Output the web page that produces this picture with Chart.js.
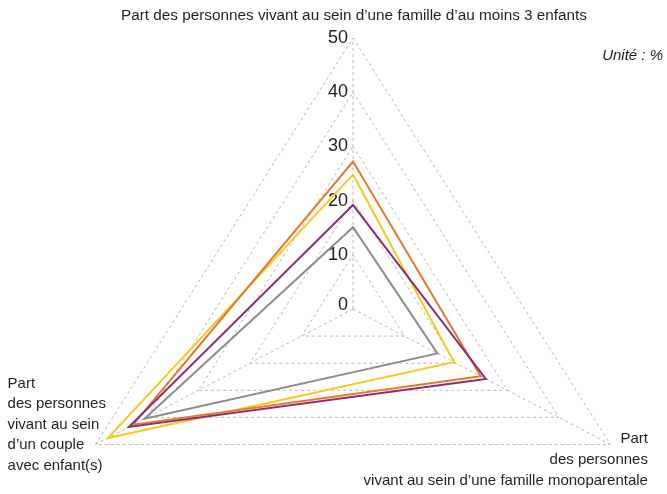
<!DOCTYPE html>
<html>
<head>
<meta charset="utf-8">
<script src="https://cdn.jsdelivr.net/npm/chart.js@4/dist/chart.umd.min.js"></script>
<style>
html,body{margin:0;padding:0;background:#fff;}
#wrap{width:667px;height:494px;position:relative;}
</style>
</head>
<body>
<div id="wrap"><canvas id="c" width="667" height="494"></canvas></div>
<script>
// ---- data ----
const axisLabels = [
  ['Part des personnes vivant au sein d’une famille d’au moins 3 enfants'],
  ['Part', 'des personnes', 'vivant au sein d’une famille monoparentale'],
  ['Part', 'des personnes', 'vivant au sein', 'd’un couple', 'avec enfant(s)']
];
const tickValues = [0, 10, 20, 30, 40, 50];
const unitLabel = 'Unité : %';
const seriesNames = ['Série 1', 'Série 2', 'Série 3', 'Série 4'];
const seriesOrange = [27.2, 24.8, 42.7];
const seriesYellow = [24.8, 19.6, 47.6];
const seriesPurple = [19.2, 25.8, 43.5];
const seriesGray   = [15.1, 16.4, 40.5];

// ---- styles ----
const TEXT = '#231f20';
const FONT = '"Liberation Sans", Arial, Helvetica, sans-serif';
const GRID = '#b8b8b8';
const X_STRETCH = 1.097;

const Base = Chart.RadialLinearScale || Chart.registry.getScale('radialLinear');

class TriRadialScale extends Base {
  fit() {
    this.xCenter = 353;
    this.yCenter = 309;
    this.drawingArea = 271;
  }
  getPointPosition(index, distance, additionalAngle = 0) {
    const p = super.getPointPosition(index, distance, additionalAngle);
    return { x: this.xCenter + (p.x - this.xCenter) * X_STRETCH, y: p.y, angle: p.angle };
  }
  drawLabels() {
    const ctx = this.ctx;
    ctx.save();
    ctx.fillStyle = TEXT;
    // tick labels (including 0)
    ctx.font = '18px ' + FONT;
    ctx.textAlign = 'right';
    ctx.textBaseline = 'alphabetic';
    this.ticks.forEach((t) => {
      const off = this.getDistanceFromCenterForValue(t.value);
      const y = this.yCenter - off + (t.value === 0 ? 1 : 5);
      ctx.fillText(String(t.label), this.xCenter - 5, y);
    });
    // axis labels
    ctx.font = '15.3px ' + FONT;
    const labels = this.chart.data.labels;
    const outer = this.getDistanceFromCenterForValue(this.max);
    const v0 = this.getPointPosition(0, outer);
    const v1 = this.getPointPosition(1, outer);
    const v2 = this.getPointPosition(2, outer);
    ctx.textAlign = 'center';
    labels[0].forEach((line, i) => ctx.fillText(line, v0.x + 1, v0.y - 18.5 + i * 21));
    ctx.font = '15px ' + FONT;
    ctx.textAlign = 'right';
    labels[1].forEach((line, i) => ctx.fillText(line, v1.x + 37.5, v1.y - 2 + i * 21.3));
    ctx.textAlign = 'left';
    labels[2].forEach((line, i) => ctx.fillText(line, v2.x - 88, v2.y - 56.6 + i * 20.5));
    ctx.restore();
  }
}
TriRadialScale.id = 'triRadial';
TriRadialScale.defaults = Base.defaults;
Chart.register(TriRadialScale);

const unitPlugin = {
  id: 'unitLabel',
  afterDraw(chart) {
    const ctx = chart.ctx;
    ctx.save();
    ctx.fillStyle = TEXT;
    ctx.font = 'italic 15px ' + FONT;
    ctx.textAlign = 'right';
    ctx.textBaseline = 'alphabetic';
    ctx.fillText(unitLabel, 663, 60);
    ctx.restore();
  }
};

function ds(name, data, color) {
  return {
    label: name,
    data: data,
    borderColor: color,
    backgroundColor: 'rgba(0,0,0,0)',
    fill: false,
    borderWidth: 2,
    pointRadius: 0,
    pointHoverRadius: 0,
    tension: 0
  };
}

new Chart(document.getElementById('c'), {
  type: 'radar',
  data: {
    labels: axisLabels,
    datasets: [
      ds(seriesNames[0], seriesPurple, '#8e2a74'),
      ds(seriesNames[1], seriesOrange, '#e8782a'),
      ds(seriesNames[2], seriesYellow, '#f7c81e'),
      ds(seriesNames[3], seriesGray, '#8c8c8c')
    ]
  },
  options: {
    responsive: false,
    animation: false,
    events: [],
    plugins: { legend: { display: false }, tooltip: { enabled: false } },
    scales: {
      r: {
        type: 'triRadial',
        min: tickValues[0],
        max: tickValues[tickValues.length - 1],
        ticks: { stepSize: tickValues[1] - tickValues[0], display: true },
        grid: { color: GRID, lineWidth: 1 },
        border: { dash: [3, 3] },
        angleLines: { display: true, color: GRID, lineWidth: 1, borderDash: [3, 3] },
        pointLabels: { display: false }
      }
    }
  },
  plugins: [unitPlugin]
});
</script>
</body>
</html>
